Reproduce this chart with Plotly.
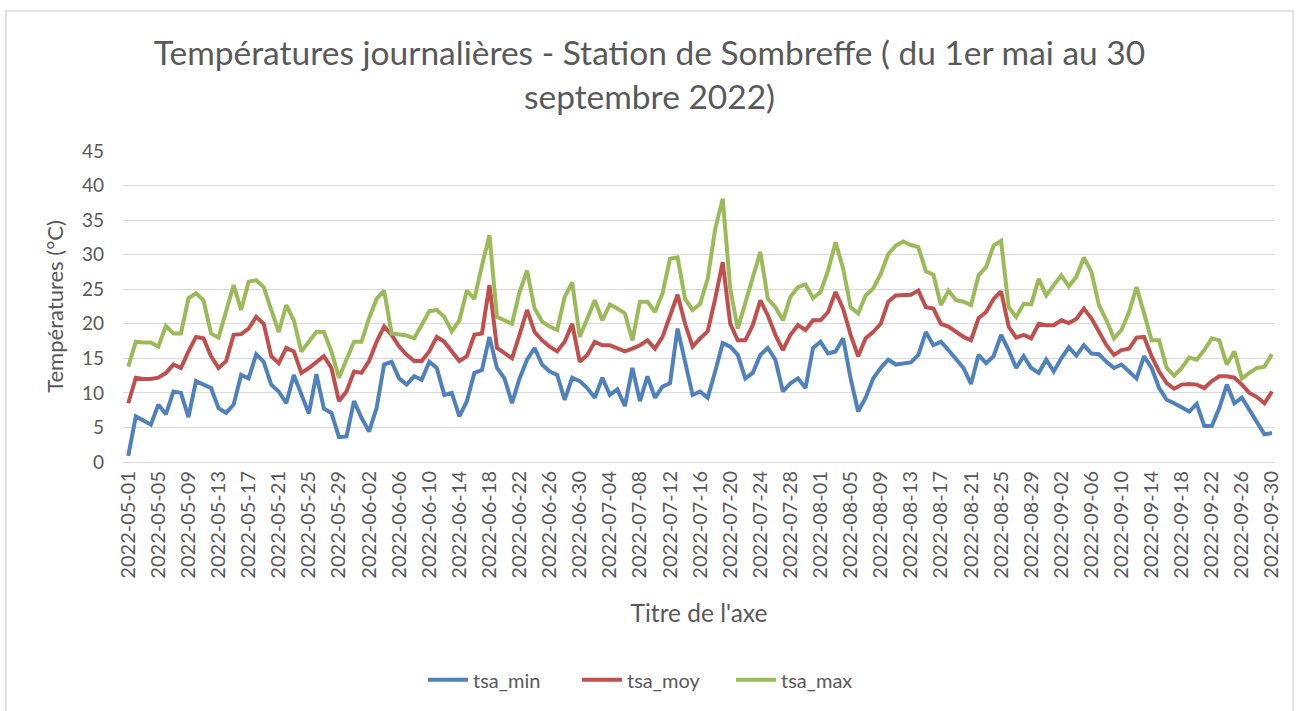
import pandas as pd
import plotly.graph_objects as go

dates = [d.strftime("%Y-%m-%d") for d in pd.date_range("2022-05-01", "2022-09-30", freq="D")]

tsa_min = [0.9, 6.6, 6.0, 5.4, 8.3, 6.9, 10.2, 10.0, 6.5, 11.7, 11.2, 10.7, 7.8, 7.1, 8.3, 12.6, 12.1, 15.6, 14.5, 11.2,
           10.2, 8.5, 12.6, 9.7, 7.0, 12.7, 7.7, 7.1, 3.6, 3.7, 8.8, 6.4, 4.4, 7.8, 14.1, 14.5, 12.1, 11.2, 12.4, 11.9,
           14.5, 13.6, 9.7, 10.0, 6.6, 8.8, 12.9, 13.3, 18.1, 13.6, 12.1, 8.5, 12.1, 14.8, 16.5, 14.1, 13.1, 12.6, 9.0, 12.2,
           11.7, 10.7, 9.3, 12.2, 9.7, 10.5, 8.1, 13.6, 8.8, 12.4, 9.3, 10.9, 11.4, 19.3, 14.5, 9.7, 10.2, 9.3, 13.1, 17.2,
           16.7, 15.5, 12.1, 12.9, 15.5, 16.5, 14.8, 10.2, 11.4, 12.1, 10.7, 16.5, 17.4, 15.7, 16.0, 17.9, 12.1, 7.3, 9.3, 12.1,
           13.6, 14.8, 14.1, 14.3, 14.4, 15.5, 18.8, 16.9, 17.4, 16.2, 15.0, 13.6, 11.3, 15.5, 14.3, 15.3, 18.4, 16.2, 13.6, 15.3,
           13.6, 12.9, 14.8, 13.1, 15.0, 16.6, 15.4, 16.9, 15.7, 15.6, 14.5, 13.6, 14.1, 13.1, 12.1, 15.3, 13.6, 10.7, 9.0, 8.5,
           7.9, 7.3, 8.4, 5.2, 5.2, 7.8, 11.2, 8.5, 9.3, 7.6, 5.9, 4.0, 4.2]

tsa_moy = [8.5, 12.2, 12.0, 12.0, 12.2, 12.9, 14.1, 13.6, 16.0, 18.1, 17.9, 15.3, 13.6, 14.6, 18.4, 18.5, 19.3, 21.0, 20.0, 15.3,
           14.3, 16.5, 16.0, 12.9, 13.6, 14.5, 15.3, 13.6, 8.8, 10.2, 13.1, 12.9, 14.6, 17.4, 19.6, 18.4, 16.7, 15.5, 14.6, 14.6,
           16.0, 18.1, 17.4, 16.0, 14.6, 15.3, 18.4, 18.6, 25.6, 16.5, 15.7, 15.0, 18.4, 22.0, 18.8, 17.6, 16.7, 16.0, 17.4, 20.0,
           14.5, 15.5, 17.4, 16.9, 16.9, 16.4, 16.0, 16.4, 16.9, 17.6, 16.4, 18.1, 21.2, 24.2, 20.0, 16.7, 17.9, 18.9, 23.6, 28.9,
           20.0, 17.6, 17.6, 19.8, 23.4, 21.2, 18.4, 16.2, 18.4, 19.8, 19.1, 20.5, 20.5, 21.7, 24.6, 22.2, 18.4, 15.3, 17.9, 18.8,
           20.0, 23.2, 24.1, 24.2, 24.2, 24.8, 22.4, 22.2, 20.0, 19.6, 18.8, 18.1, 17.6, 20.8, 21.7, 23.6, 24.7, 19.6, 18.0, 18.4,
           17.9, 20.0, 19.8, 19.8, 20.5, 20.1, 20.7, 22.2, 20.8, 18.8, 16.9, 15.5, 16.2, 16.4, 18.0, 18.1, 15.3, 13.1, 11.4, 10.6,
           11.2, 11.3, 11.2, 10.7, 11.7, 12.4, 12.4, 12.2, 11.2, 10.0, 9.4, 8.5, 10.2]

tsa_max = [13.8, 17.4, 17.3, 17.3, 16.7, 19.7, 18.6, 18.6, 23.7, 24.4, 23.4, 18.6, 18.0, 21.7, 25.6, 22.0, 26.1, 26.3, 25.3, 22.0,
           18.8, 22.7, 20.5, 16.0, 17.3, 18.8, 18.8, 16.0, 12.2, 15.0, 17.4, 17.4, 20.8, 23.6, 24.8, 18.6, 18.4, 18.3, 17.9, 19.8,
           21.8, 22.0, 21.0, 18.9, 20.5, 24.8, 23.6, 28.4, 32.8, 21.0, 20.5, 20.0, 24.6, 27.7, 22.2, 20.3, 19.6, 19.1, 23.9, 26.0,
           18.1, 20.8, 23.4, 20.5, 22.8, 22.2, 21.5, 17.6, 23.2, 23.2, 21.7, 24.4, 29.4, 29.6, 23.6, 22.0, 22.9, 26.5, 33.7, 38.1,
           25.1, 19.3, 22.9, 26.8, 30.4, 23.6, 22.4, 20.5, 23.9, 25.3, 25.7, 23.7, 24.6, 27.7, 31.8, 28.0, 22.4, 21.5, 24.1, 25.1,
           27.2, 30.1, 31.3, 31.9, 31.4, 31.1, 27.6, 27.1, 22.7, 24.8, 23.4, 23.2, 22.7, 27.0, 28.2, 31.3, 32.0, 22.4, 21.0, 22.9,
           22.8, 26.5, 24.1, 25.6, 27.0, 25.4, 26.8, 29.6, 27.5, 22.7, 20.5, 17.9, 19.1, 21.7, 25.3, 21.5, 17.6, 17.6, 13.6, 12.5,
           13.6, 15.1, 14.8, 16.2, 17.9, 17.6, 14.1, 16.0, 12.1, 12.9, 13.6, 13.8, 15.6]

tick_labels = dates[::4]

series = [("tsa_min", tsa_min, "#4F81BD"), ("tsa_moy", tsa_moy, "#C0504D"), ("tsa_max", tsa_max, "#9BBB59")]

fig = go.Figure()
for name, vals, col in series:
    fig.add_trace(go.Scatter(x=dates, y=vals, mode="lines", name=name,
                             line=dict(color=col, width=4)))

font_fam = "Lato, Open Sans, sans-serif"
gray = "#595959"

fig.update_layout(
    width=1299, height=711,
    paper_bgcolor="white", plot_bgcolor="white",
    margin=dict(l=123, r=24, t=151, b=247),
    title=dict(text="Températures journalières - Station de Sombreffe ( du 1er mai au 30<br>septembre 2022)",
               x=0.5, xanchor="center", y=0.908, yanchor="top",
               font=dict(family=font_fam, size=33.5, color=gray)),
    font=dict(family=font_fam, color=gray),
    showlegend=True,
    legend=dict(orientation="h", x=(423 - 123) / 1152, xanchor="left", y=-0.70, yanchor="middle",
                font=dict(size=20, color=gray), itemwidth=40, entrywidth=99, entrywidthmode="pixels"),
    xaxis=dict(type="category", range=[-0.7, 152.4], tickmode="array", tickvals=tick_labels,
               ticktext=tick_labels, tickangle=-90, tickfont=dict(size=20, color=gray),
               showgrid=False, showline=True, linecolor="#d9d9d9", linewidth=1, ticks="",
               title=dict(text="Titre de l'axe", font=dict(size=24.5, color=gray), standoff=27)),
    yaxis=dict(range=[0, 45], dtick=5, tickfont=dict(size=19, color=gray),
               gridcolor="#d9d9d9", gridwidth=1, zeroline=False, showline=False, ticks="",
               ticklabelstandoff=18,
               title=dict(text="Températures (°C)", font=dict(size=22, color=gray), standoff=12)),
)

# chart border
fig.add_shape(type="rect", xref="paper", yref="paper",
              x0=(6 - 123) / 1152, x1=(1293 - 123) / 1152,
              y0=(464 - 716) / 313, y1=(464 - 10) / 313,
              line=dict(color="#d9d9d9", width=1.5), fillcolor="rgba(0,0,0,0)", layer="below")

fig.write_html("out.html", config={"displayModeBar": False},
               post_script="document.body.style.margin='0';")
